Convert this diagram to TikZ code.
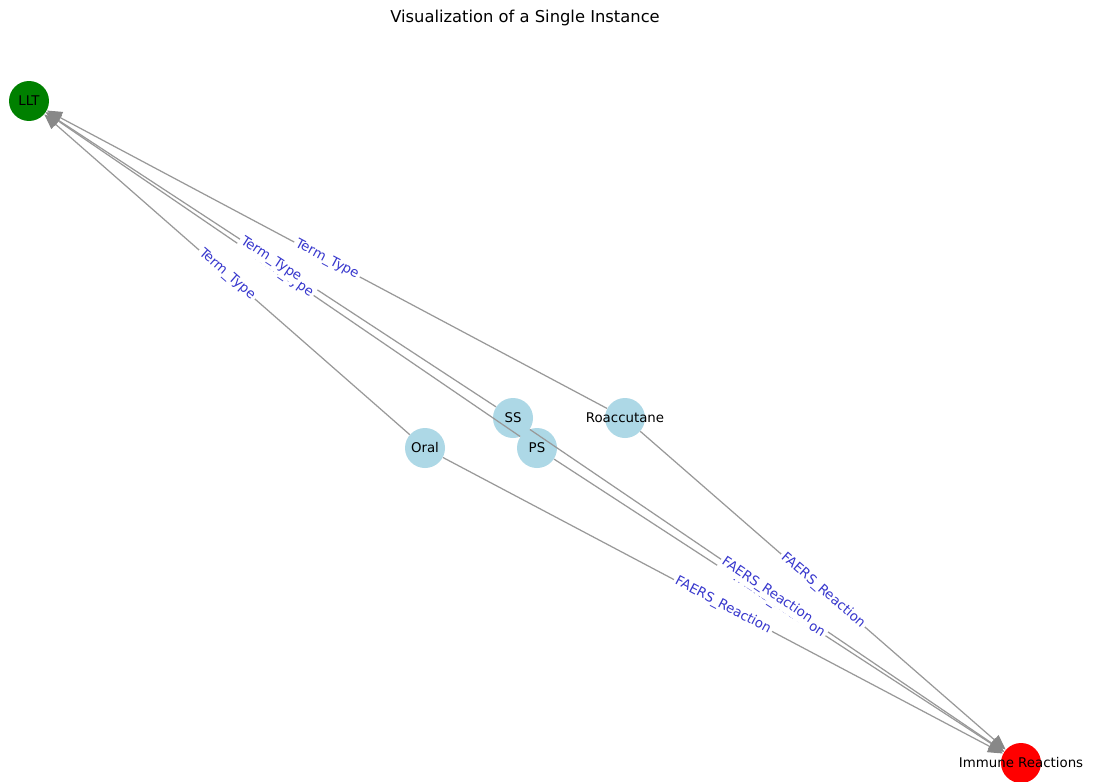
\documentclass[tikz,border=0pt]{standalone}
\usepackage{fontspec}
\setmainfont{DejaVu Sans}
\usetikzlibrary{arrows.meta}
\definecolor{lblue}{HTML}{ADD8E6}
\definecolor{ngreen}{HTML}{008000}
\definecolor{nred}{HTML}{FF0000}
\definecolor{edgegray}{HTML}{999999}
\definecolor{tipgray}{HTML}{888888}
\definecolor{lblcol}{RGB}{55,55,205}
\tikzset{
  vert/.style={circle, minimum size=0.8cm, inner sep=0pt, draw=none},
  vtext/.style={font=\fontsize{7.6pt}{9pt}\selectfont, text=black},
  conn/.style={draw=edgegray, line width=0.7pt, -{Triangle[length=0.3cm,width=0.25cm,color=tipgray]}, fill=none},
  elabel/.style={midway, sloped, fill=white, inner sep=1.2pt, text=lblcol, font=\fontsize{7.6pt}{9pt}\selectfont}
}
\begin{document}
\begin{tikzpicture}[x=0.02cm, y=-0.02cm]
\useasboundingbox[fill=white] (0,0) rectangle (1094,781);
\node[font=\fontsize{9.3pt}{11pt}\selectfont] (title) at (525,18) {Visualization of a Single Instance};
% nodes
\node[vert, fill=ngreen, label={[vtext]center:LLT}] (llt) at (29,101) {};
\node[vert, fill=nred] (imm) at (1021,763) {};
\node[vert, fill=lblue, label={[vtext]center:Oral}] (oral) at (425,448) {};
\node[vert, fill=lblue, label={[vtext]center:SS}] (ss) at (513,418) {};
\node[vert, fill=lblue, label={[vtext]center:PS}] (ps) at (537,448) {};
\node[vert, fill=lblue, label={[vtext]center:Roaccutane}] (roa) at (625,418) {};
% edges
\draw[conn] (oral) -- (llt);
\draw[conn] (ps) -- (llt);
\draw[conn] (ss) -- (llt);
\draw[conn] (roa) -- (llt);
\draw[conn] (oral) -- (imm);
\draw[conn] (ps) -- (imm);
\draw[conn] (ss) -- (imm);
\draw[conn] (roa) -- (imm);
% edge labels
\path (oral) -- (llt) node[elabel] (l1) {Term\_Type};
\path (ps) -- (llt) node[elabel] (l2) {Term\_Type};
\path (ss) -- (llt) node[elabel] (l3) {Term\_Type};
\path (roa) -- (llt) node[elabel] (l4) {Term\_Type};
\path (oral) -- (imm) node[elabel] (l5) {FAERS\_Reaction};
\path (ps) -- (imm) node[elabel] (l6) {FAERS\_Reaction};
\path (ss) -- (imm) node[elabel] (l7) {FAERS\_Reaction};
\path (roa) -- (imm) node[elabel] (l8) {FAERS\_Reaction};
% node text on top of arrows
\node[vtext] (immtxt) at (imm) {Immune Reactions};
\end{tikzpicture}
\end{document}
